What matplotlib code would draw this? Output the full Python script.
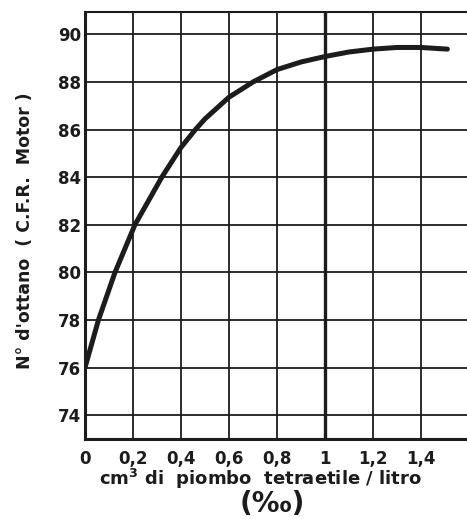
import matplotlib
matplotlib.use("Agg")
import matplotlib.pyplot as plt
import numpy as np

# dati
piombo = [0, 0.056, 0.125, 0.208, 0.32, 0.4, 0.46, 0.5, 0.6, 0.7, 0.8, 0.9,
          1.0, 1.1, 1.2, 1.3, 1.4, 1.51]
ottano = [76.0, 78.0, 80.0, 82.0, 84.0, 85.25, 86.0, 86.45, 87.36, 88.0, 88.52,
          88.84, 89.07, 89.26, 89.38, 89.45, 89.45, 89.38]

x_ticks = [0, 0.2, 0.4, 0.6, 0.8, 1.0, 1.2, 1.4]
x_labels = ["0", "0,2", "0,4", "0,6", "0,8", "1", "1,2", "1,4"]
y_ticks = [74, 76, 78, 80, 82, 84, 86, 88, 90]

ink = "#1c1c1c"
plt.rcParams["font.family"] = "DejaVu Sans"
plt.rcParams["font.weight"] = "bold"

fig = plt.figure(figsize=(4.67, 5.19), dpi=100)
ax = fig.add_axes([85 / 467, 1 - 439 / 519, 384 / 467, 427 / 519])
ax.set_xlim(0, 1.6)
ax.set_ylim(73, 90.94)

# griglia
for xv in x_ticks[1:]:
    ax.axvline(xv, color=ink, lw=2.4 if xv == 1.0 else 1.3, zorder=1)
for yv in y_ticks:
    ax.axhline(yv, color=ink, lw=1.3, zorder=1)

ax.plot(piombo, ottano, color=ink, lw=3.6, solid_capstyle="round",
        solid_joinstyle="round", zorder=3)

ax.set_xticks(x_ticks)
ax.set_xticklabels(x_labels)
ax.set_yticks(y_ticks)
ax.tick_params(length=0, labelsize=12, colors=ink)
ax.tick_params(axis="x", pad=8)
ax.tick_params(axis="y", pad=3)

for s in ["left", "bottom"]:
    ax.spines[s].set_linewidth(2.2)
    ax.spines[s].set_color(ink)
ax.spines["top"].set_linewidth(1.5)
ax.spines["top"].set_color(ink)
ax.spines["right"].set_visible(False)

fig.text(25 / 467, 1 - 231 / 519, "N° d'ottano  ( C.F.R.  Motor )", rotation=90,
         ha="center", va="center", fontsize=12.5, color=ink, fontweight="bold")
fig.text(260 / 467, 1 - 479 / 519, "cm$^3$ di  piombo  tetraetile / litro",
         ha="center", va="center", fontsize=13, color=ink, fontweight="bold")
fig.text(272 / 467, 1 - 504 / 519, "(‰)", ha="center", va="center",
         fontsize=20, color=ink, fontweight="bold")

fig.savefig("out.png", dpi=100)
